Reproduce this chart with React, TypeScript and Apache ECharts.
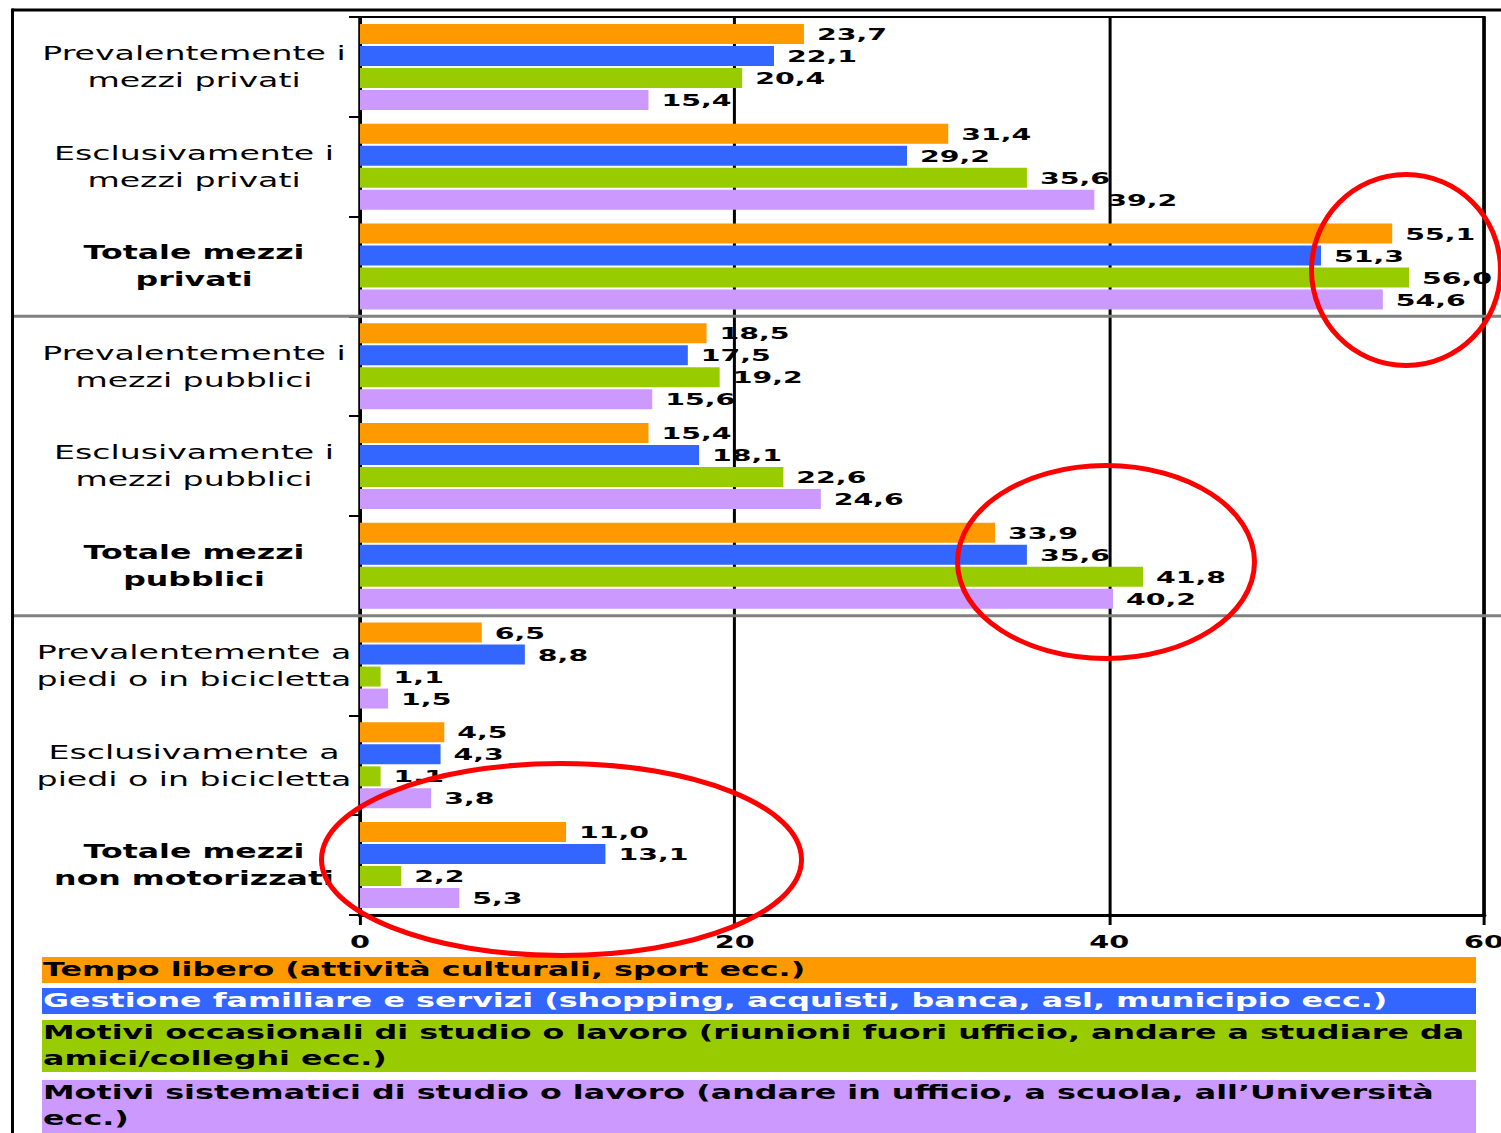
import React, { useEffect, useRef } from 'react';
import * as echarts from 'echarts';

// ---------- data ----------
const categories = [
  'Prevalentemente i\nmezzi privati',
  'Esclusivamente i\nmezzi privati',
  'Totale mezzi\nprivati',
  'Prevalentemente i\nmezzi pubblici',
  'Esclusivamente i\nmezzi pubblici',
  'Totale mezzi\npubblici',
  'Prevalentemente a\npiedi o in bicicletta',
  'Esclusivamente a\npiedi o in bicicletta',
  'Totale mezzi\nnon motorizzati',
];

const seriesNames = [
  'Tempo libero (attività culturali, sport ecc.)',
  'Gestione familiare e servizi (shopping, acquisti, banca, asl, municipio ecc.)',
  'Motivi occasionali di studio o lavoro (riunioni fuori ufficio, andare a studiare da\namici/colleghi ecc.)',
  'Motivi sistematici di studio o lavoro (andare in ufficio, a scuola, all’Università\necc.)',
];

const tempoLibero = [23.7, 31.4, 55.1, 18.5, 15.4, 33.9, 6.5, 4.5, 11.0];
const gestioneFamiliare = [22.1, 29.2, 51.3, 17.5, 18.1, 35.6, 8.8, 4.3, 13.1];
const motiviOccasionali = [20.4, 35.6, 56.0, 19.2, 22.6, 41.8, 1.1, 1.1, 2.2];
const motiviSistematici = [15.4, 39.2, 54.6, 15.6, 24.6, 40.2, 1.5, 3.8, 5.3];

const seriesValues = [tempoLibero, gestioneFamiliare, motiviOccasionali, motiviSistematici];
const seriesColors = ['#FF9900', '#3366FF', '#99CC00', '#CC99FF'];
const legendTextColors = ['#000000', '#FFFFFF', '#000000', '#000000'];

const xMin = 0;
const xMax = 60;
const xInterval = 20;

// ---------- layout (page is stretched horizontally) ----------
const S = 1.7;
const PAGE_W = 1501;
const PAGE_H = 1133;
const W = 883;
const H = PAGE_H;
const FONT = '"DejaVu Sans", Verdana, sans-serif';

const gridLeft = 360 / S;
const gridRight = W - 1484 / S;
const gridTop = 17;
const gridBottom = H - 915;

const legendBoxes = [
  { y: 957, h: 26 },
  { y: 988, h: 26 },
  { y: 1020, h: 52 },
  { y: 1080, h: 60 },
];

function buildOption(): any {
  const plotH = H - gridTop - gridBottom;
  const sepYs = [3, 6].map((k) => gridTop + (plotH * k) / categories.length);

  const graphic: any[] = [
    {
      type: 'line',
      shape: { x1: 12 / S, y1: 10, x2: W, y2: 10 },
      style: { stroke: '#000', lineWidth: 3 },
      z: 100,
    },
    {
      type: 'line',
      shape: { x1: 12.5 / S, y1: 8.5, x2: 12.5 / S, y2: H },
      style: { stroke: '#000', lineWidth: 3 / S },
      z: 100,
    },
    ...sepYs.map((y) => ({
      type: 'line',
      shape: { x1: 14 / S, y1: y, x2: W, y2: y },
      style: { stroke: '#808080', lineWidth: 3 },
      z: 100,
    })),
  ];

  seriesNames.forEach((name, i) => {
    const b = legendBoxes[i];
    graphic.push({
      type: 'rect',
      shape: { x: 42 / S, y: b.y, width: (1476 - 42) / S, height: b.h },
      style: { fill: seriesColors[i] },
      z: 100,
    });
    const lines = name.split('\n').length;
    graphic.push({
      type: 'text',
      x: 43 / S,
      y: b.y + 13 + ((lines - 1) * 26) / 2,
      style: {
        text: name,
        fill: legendTextColors[i],
        fontFamily: FONT,
        fontWeight: 'bold',
        fontSize: 18.7,
        lineHeight: 26,
        align: 'left',
        verticalAlign: 'middle',
      },
      z: 101,
    });
  });

  return {
    animation: false,
    backgroundColor: '#ffffff',
    grid: {
      left: gridLeft,
      right: gridRight,
      top: gridTop,
      bottom: gridBottom,
      containLabel: false,
      outerBoundsMode: 'none',
      show: true,
      borderColor: '#000',
      borderWidth: 2,
      backgroundColor: 'transparent',
    },
    xAxis: {
      type: 'value',
      min: xMin,
      max: xMax,
      interval: xInterval,
      axisLine: { show: true, lineStyle: { color: '#000', width: 3 } },
      axisTick: { show: true, length: 10, lineStyle: { color: '#000', width: 3 / S } },
      splitLine: { show: true, lineStyle: { color: '#000', width: 3 / S } },
      axisLabel: {
        color: '#000',
        fontFamily: FONT,
        fontWeight: 'bold',
        fontSize: 16.9,
        margin: 19,
      },
    },
    yAxis: {
      type: 'category',
      inverse: true,
      data: categories,
      axisLine: { show: true, lineStyle: { color: '#000', width: 3 / S } },
      axisTick: { show: true, length: 11 / S, lineStyle: { color: '#000', width: 2 } },
      splitLine: { show: false },
      axisLabel: {
        align: 'center',
        margin: gridLeft - 194 / S,
        formatter: (value: string) => {
          const key = value.startsWith('Totale') ? 'b' : 'n';
          return value
            .split('\n')
            .map((l) => `{${key}|${l}}`)
            .join('\n');
        },
        rich: {
          n: { fontFamily: FONT, fontSize: 19.5, color: '#000', lineHeight: 27, align: 'center' },
          b: {
            fontFamily: FONT,
            fontSize: 18.6,
            fontWeight: 'bold',
            color: '#000',
            lineHeight: 27,
            align: 'center',
          },
        },
      },
    },
    series: seriesNames.map((name, i) => ({
      type: 'bar',
      name,
      data: seriesValues[i],
      barWidth: 20,
      barGap: '10%',
      itemStyle: { color: seriesColors[i] },
      label: {
        show: true,
        position: 'right',
        distance: 13 / S,
        color: '#000',
        fontFamily: FONT,
        fontWeight: 'bold',
        fontSize: 16.7,
        formatter: (p: any) => Number(p.value).toFixed(1).replace('.', ','),
      },
    })),
    graphic,
  };
}

function buildOverlayOption(): any {
  const ellipses = [
    { cx: 1406, cy: 270, rx: 94.5, ry: 95.5 },
    { cx: 1106, cy: 562, rx: 148.5, ry: 96.5 },
    { cx: 561.5, cy: 859.5, rx: 240, ry: 96 },
  ];
  return {
    animation: false,
    graphic: ellipses.map((e) => ({
      type: 'ellipse',
      shape: e,
      style: { fill: 'none', stroke: '#FF0000', lineWidth: 5 },
      silent: true,
    })),
  };
}

export default function App() {
  const chartRef = useRef<HTMLDivElement>(null);
  const overlayRef = useRef<HTMLDivElement>(null);

  useEffect(() => {
    document.body.style.margin = '0';
    const chart = echarts.init(chartRef.current!, undefined, { renderer: 'svg' });
    chart.setOption(buildOption());
    const overlay = echarts.init(overlayRef.current!, undefined, { renderer: 'svg' });
    overlay.setOption(buildOverlayOption());
    return () => {
      chart.dispose();
      overlay.dispose();
    };
  }, []);

  return (
    <div
      style={{
        position: 'absolute',
        left: 0,
        top: 0,
        width: PAGE_W,
        height: PAGE_H,
        overflow: 'hidden',
        background: '#fff',
      }}
    >
      <div
        ref={chartRef}
        style={{
          position: 'absolute',
          left: 0,
          top: 0,
          width: W,
          height: H,
          transform: `scaleX(${S})`,
          transformOrigin: '0 0',
        }}
      />
      <div
        ref={overlayRef}
        style={{
          position: 'absolute',
          left: 0,
          top: 0,
          width: PAGE_W,
          height: PAGE_H,
          pointerEvents: 'none',
        }}
      />
    </div>
  );
}
